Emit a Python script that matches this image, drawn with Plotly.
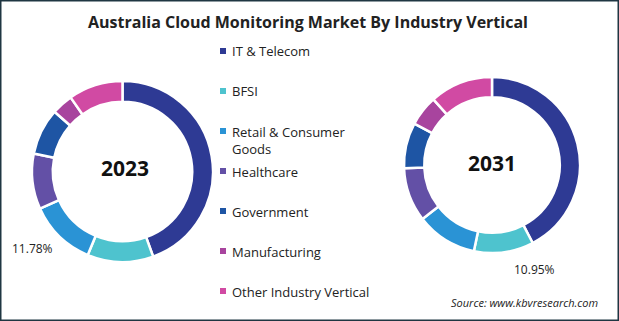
import plotly.graph_objects as go

categories = ["IT & Telecom", "BFSI", "Retail & Consumer Goods", "Healthcare",
              "Government", "Manufacturing", "Other Industry Vertical"]
legend_labels = ["IT & Telecom", "BFSI", "Retail & Consumer<br>Goods", "Healthcare",
                 "Government", "Manufacturing", "Other Industry Vertical"]
share_2023 = [44.5, 11.78, 12.0, 9.9, 8.3, 3.8, 9.72]
share_2031 = [42.35, 10.95, 11.2, 9.9, 8.4, 5.6, 11.6]
years = ["2023", "2031"]
colors = ["#2E3A94", "#4EC3CE", "#2A93D5", "#6350A6", "#1E55A4", "#A8449E", "#D14AA3"]

W, H = 619, 321
FONT = "Open Sans"

def dom(cx, cy, r):
    return dict(x=[(cx - r) / W, (cx + r) / W],
                y=[(H - cy - r) / H, (H - cy + r) / H])

fig = go.Figure()
for vals, d in [(share_2023, dom(122.5, 171.5, 90.5)), (share_2031, dom(492, 165, 88))]:
    fig.add_trace(go.Pie(
        labels=categories, values=vals, domain=d, hole=0.77,
        sort=False, direction="clockwise", rotation=0,
        marker=dict(colors=colors, line=dict(color="white", width=2.5)),
        textinfo="none", hoverinfo="label+percent", showlegend=False,
    ))

def txt(text, x, y, size, xanchor="center", yanchor="middle", color="#222222", align="center"):
    return dict(text=text, x=x / W, y=1 - y / H, xref="paper", yref="paper", showarrow=False,
                xanchor=xanchor, yanchor=yanchor, align=align,
                font=dict(family=FONT, size=size, color=color))

ann = []
ann.append(txt("<b>Australia Cloud Monitoring Market By Industry Vertical</b>", 308, 22, 16))
ann.append(txt("<b>" + years[0] + "</b>", 125, 168, 21, color="#111111"))
ann.append(txt("<b>" + years[1] + "</b>", 492, 163, 21, color="#111111"))
ann.append(txt(f"{share_2023[1]:.2f}%", 32, 248, 12))
ann.append(txt(f"{share_2031[1]:.2f}%", 534, 269, 12))
ann.append(txt("<i>Source: www.kbvresearch.com</i>", 600, 302, 11, xanchor="right"))

shapes = []
legend_y = [51, 91, 131, 171, 211, 251, 291]
for lab, col, ly in zip(legend_labels, colors, legend_y):
    shapes.append(dict(type="rect", xref="paper", yref="paper",
                       x0=220 / W, x1=226 / W, y0=1 - (ly + 3) / H, y1=1 - (ly - 3) / H,
                       fillcolor=col, line=dict(width=0)))
    ann.append(txt(lab, 230, ly - 10.5, 13, xanchor="left", yanchor="top", align="left"))

shapes.append(dict(type="rect", xref="paper", yref="paper", x0=0, x1=1, y0=0, y1=1,
                   line=dict(color="#1F3642", width=3), fillcolor="rgba(0,0,0,0)"))

fig.update_layout(width=W, height=H, margin=dict(l=0, r=0, t=0, b=0),
                  paper_bgcolor="white", plot_bgcolor="white",
                  annotations=ann, shapes=shapes, showlegend=False)
fig.write_html("out.html")
